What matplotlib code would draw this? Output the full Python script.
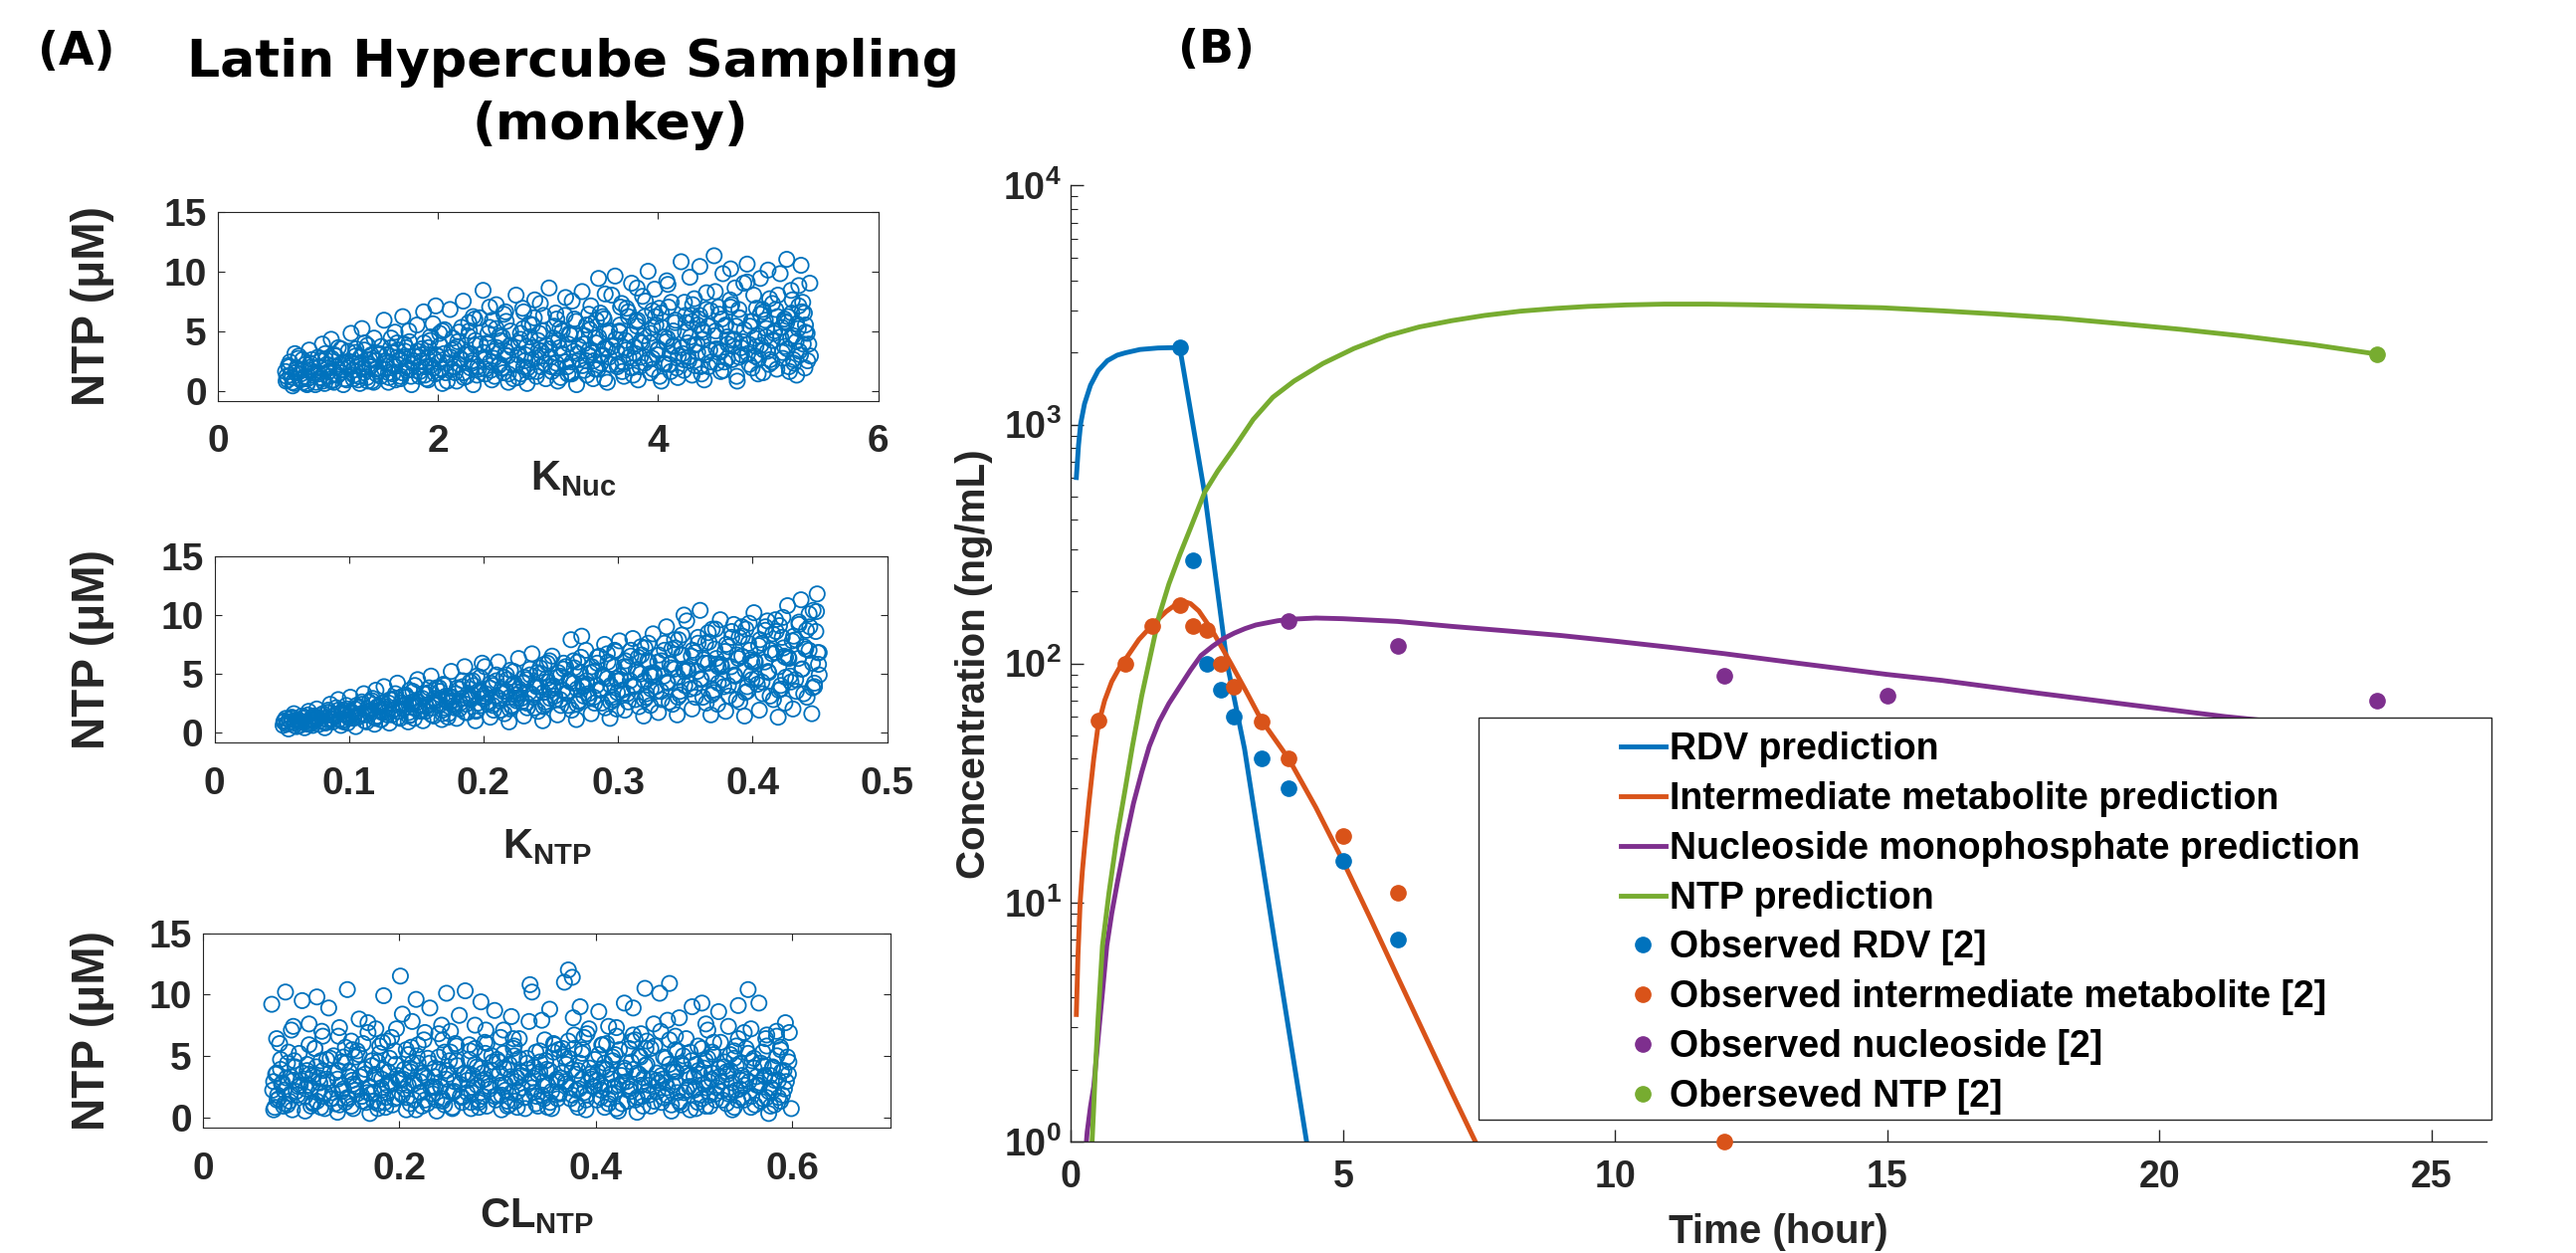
import numpy as np
import matplotlib
matplotlib.use("Agg")
import matplotlib.pyplot as plt
from matplotlib.patches import Rectangle
from matplotlib.ticker import LogLocator, NullFormatter

plt.rcParams['font.family'] = ['Liberation Sans', 'DejaVu Sans']
plt.rcParams['font.weight'] = 'bold'
plt.rcParams['mathtext.fontset'] = 'custom'
plt.rcParams['mathtext.rm'] = 'Liberation Sans:bold'
plt.rcParams['mathtext.it'] = 'Liberation Sans:bold'
plt.rcParams['mathtext.bf'] = 'Liberation Sans:bold'

# ---------------- (A) Latin hypercube samples ----------------
# outer cloud
knuc_x = [0.62,0.64,0.66,0.68,0.70,0.72,0.75,0.77,0.79,0.81,0.83,0.85,0.87,0.89,
          0.91,0.93,0.95,0.97,0.99,1.01,1.03,1.05,1.07,1.09,1.12,1.14,1.16,1.18,
          1.21,1.23,1.25,1.27,1.29,1.31,1.33,1.36,1.38,1.40,1.42,1.44,1.46,1.48,
          1.51,1.53,1.55,1.57,1.59,1.61,1.63,1.66,1.68,1.70,1.72,1.74,1.76,1.78,
          1.81,1.83,1.85,1.87,1.89,1.91,1.93,1.96,1.98,2.00,2.02,2.04,2.06,2.08,
          2.11,2.13,2.15,2.17,2.19,2.21,2.23,2.26,2.28,2.30,2.32,2.34,2.36,2.38,
          2.41,2.43,2.45,2.47,2.49,2.51,2.53,2.56,2.58,2.60,2.62,2.64,2.66,2.68,
          2.71,2.73,2.75,2.77,2.79,2.81,2.83,2.86,2.88,2.90,2.92,2.94,2.96,2.98,
          3.01,3.03,3.05,3.07,3.09,3.11,3.13,3.16,3.18,3.20,3.22,3.24,3.26,3.28,
          3.31,3.33,3.35,3.37,3.39,3.41,3.43,3.46,3.48,3.50,3.52,3.54,3.56,3.58,
          3.61,3.63,3.65,3.67,3.69,3.71,3.73,3.76,3.78,3.80,3.82,3.84,3.86,3.88,
          3.91,3.93,3.95,3.97,3.99,4.01,4.03,4.06,4.08,4.10,4.12,4.14,4.16,4.18,
          4.21,4.23,4.25,4.27,4.29,4.31,4.33,4.36,4.38,4.40,4.42,4.44,4.46,4.48,
          4.51,4.53,4.55,4.57,4.59,4.61,4.63,4.66,4.68,4.70,4.72,4.74,4.76,4.78,
          4.81,4.83,4.85,4.87,4.89,4.91,4.93,4.96,4.98,5.00,5.02,5.04,5.06,5.08,
          5.11,5.13,5.15,5.17,5.19,5.21,5.23,5.26,5.28,5.30,5.32,5.34,5.36,5.38]
knuc_ntp = [0.8,2.1,1.3,0.4,3.1,1.8,0.9,2.6,1.2,0.5,3.4,2.0,1.5,0.7,
            2.8,1.1,3.9,0.6,2.2,1.6,4.3,0.9,2.9,1.3,3.5,0.5,2.4,1.9,
            4.8,1.0,3.2,2.1,0.6,5.2,1.5,3.8,2.6,0.8,4.4,1.8,3.0,1.2,
            5.9,2.3,0.7,3.6,1.4,4.9,2.8,1.0,6.2,3.3,1.7,4.1,0.5,2.5,
            5.5,1.2,3.0,6.6,2.0,0.9,4.5,2.7,7.1,1.5,3.8,0.6,5.1,2.3,
            6.8,1.8,3.5,0.8,4.9,2.6,7.5,1.2,5.7,3.1,0.5,4.2,2.0,6.1,
            8.4,1.4,3.9,5.3,0.9,2.7,7.2,4.6,1.9,6.4,3.3,0.7,5.0,2.2,
            8.0,1.1,4.3,6.9,2.5,0.6,5.6,3.6,7.6,1.6,4.8,2.9,6.3,1.0,
            8.6,2.0,4.0,6.5,0.8,5.2,3.1,7.8,1.4,4.7,2.4,6.0,0.5,3.7,
            8.3,1.7,5.5,3.0,7.1,1.0,4.4,9.4,2.3,6.2,3.6,0.7,5.0,8.0,
            9.6,2.0,4.9,7.3,1.2,3.4,6.6,9.0,2.7,5.8,0.9,4.1,7.9,2.3,
            10.0,1.5,5.3,8.5,3.0,6.9,0.8,4.5,9.2,2.2,7.4,3.8,5.9,1.1,
            10.8,2.6,6.3,4.0,9.5,1.3,7.7,3.2,10.4,5.1,0.9,8.2,2.0,6.7,
            11.3,3.5,7.0,1.6,9.8,5.4,2.7,10.2,4.2,8.6,0.8,6.1,3.0,9.0,
            10.6,2.2,5.8,8.0,3.7,1.4,9.4,6.6,4.5,10.1,2.6,7.3,5.0,1.8,
            9.8,3.2,6.0,11.0,2.0,8.4,4.6,1.3,7.1,10.5,3.9,5.5,2.5,9.0]
# dense core
knuc_x_core = [0.615,0.635,0.655,0.675,0.695,0.715,0.735,0.755,0.775,0.795,0.815,0.835,0.855,0.885,
               0.915,0.935,0.955,0.975,0.995,1.015,1.035,1.055,1.075,1.095,1.115,1.135,1.155,1.185,
               1.215,1.235,1.255,1.275,1.295,1.315,1.335,1.355,1.375,1.395,1.415,1.435,1.455,1.485,
               1.515,1.535,1.555,1.575,1.595,1.615,1.635,1.655,1.675,1.695,1.715,1.735,1.755,1.785,
               1.815,1.835,1.855,1.875,1.895,1.915,1.935,1.955,1.975,1.995,2.015,2.035,2.055,2.085,
               2.115,2.135,2.155,2.175,2.195,2.215,2.235,2.255,2.275,2.295,2.315,2.335,2.355,2.385,
               2.415,2.435,2.455,2.475,2.495,2.515,2.535,2.555,2.575,2.595,2.615,2.635,2.655,2.685,
               2.715,2.735,2.755,2.775,2.795,2.815,2.835,2.855,2.875,2.895,2.915,2.935,2.955,2.985,
               3.015,3.035,3.055,3.075,3.095,3.115,3.135,3.155,3.175,3.195,3.215,3.235,3.255,3.285,
               3.315,3.335,3.355,3.375,3.395,3.415,3.435,3.455,3.475,3.495,3.515,3.535,3.555,3.585,
               3.615,3.635,3.655,3.675,3.695,3.715,3.735,3.755,3.775,3.795,3.815,3.835,3.855,3.885,
               3.915,3.935,3.955,3.975,3.995,4.015,4.035,4.055,4.075,4.095,4.115,4.135,4.155,4.185,
               4.215,4.235,4.255,4.275,4.295,4.315,4.335,4.355,4.375,4.395,4.415,4.435,4.455,4.485,
               4.515,4.535,4.555,4.575,4.595,4.615,4.635,4.655,4.675,4.695,4.715,4.735,4.755,4.785,
               4.815,4.835,4.855,4.875,4.895,4.915,4.935,4.955,4.975,4.995,5.015,5.035,5.055,5.085,
               5.115,5.135,5.155,5.175,5.195,5.215,5.235,5.255,5.275,5.295,5.315,5.335,5.355,5.385]
knuc_ntp_core = [1.6,0.9,2.4,1.1,0.6,1.9,2.9,1.4,0.7,2.2,1.0,1.7,2.6,0.5,
                 1.4,2.5,0.8,3.1,1.9,1.2,2.7,0.7,2.0,3.6,1.5,2.3,1.0,3.3,
                 2.4,1.3,3.5,0.9,2.8,1.9,4.0,1.1,2.2,3.0,0.7,2.5,1.6,3.7,
                 1.8,3.0,1.1,4.4,2.2,0.9,3.4,2.6,1.5,3.9,2.0,5.0,1.2,2.9,
                 3.3,1.6,2.5,4.0,1.0,3.6,2.1,5.6,1.4,2.9,4.8,1.8,3.1,0.8,
                 2.8,4.4,1.5,3.7,2.2,5.3,1.1,3.0,4.6,1.9,2.5,6.0,1.3,3.9,
                 3.2,1.8,4.8,2.4,5.9,1.2,3.6,2.1,4.2,1.5,6.6,2.9,3.8,1.0,
                 2.2,4.0,1.4,5.2,3.0,1.9,4.5,2.6,6.1,1.2,3.4,2.0,5.0,3.8,
                 3.5,1.6,5.4,2.3,4.2,1.1,3.0,6.3,2.0,4.8,1.4,3.3,5.8,2.6,
                 2.1,4.6,1.3,3.4,5.6,2.5,4.0,1.8,6.5,3.0,1.0,4.9,2.8,3.7,
                 4.3,2.2,5.5,1.6,3.6,6.9,2.8,4.7,1.3,3.1,5.9,2.0,4.0,7.5,
                 2.6,4.8,1.8,6.2,3.4,1.2,5.3,2.3,4.1,7.0,1.6,3.7,5.7,2.9,
                 3.6,1.7,5.7,2.8,4.5,7.2,2.1,3.9,6.0,1.4,4.9,3.0,5.4,2.4,
                 4.6,2.3,6.4,3.3,1.7,5.5,3.9,7.6,2.6,4.3,1.2,6.8,3.6,5.1,
                 3.1,5.4,1.9,4.4,6.9,2.7,3.8,1.5,5.9,3.3,7.7,2.4,4.8,6.2,
                 4.5,2.7,5.8,3.5,1.6,6.5,2.3,4.1,5.2,3.0,7.4,1.9,4.8,2.9]
knuc_x_mid = [0.625,0.650,0.680,0.705,0.730,0.760,0.785,0.810,0.840,0.870,
              0.925,0.950,0.980,1.005,1.030,1.060,1.085,1.110,1.140,1.170,
              1.225,1.250,1.280,1.305,1.330,1.360,1.385,1.410,1.440,1.470,
              1.525,1.550,1.580,1.605,1.630,1.660,1.685,1.710,1.740,1.770,
              1.825,1.850,1.880,1.905,1.930,1.960,1.985,2.010,2.040,2.070,
              2.125,2.150,2.180,2.205,2.230,2.260,2.285,2.310,2.340,2.370,
              2.425,2.450,2.480,2.505,2.530,2.560,2.585,2.610,2.640,2.670,
              2.725,2.750,2.780,2.805,2.830,2.860,2.885,2.910,2.940,2.970,
              3.025,3.050,3.080,3.105,3.130,3.160,3.185,3.210,3.240,3.270,
              3.325,3.350,3.380,3.405,3.430,3.460,3.485,3.510,3.540,3.570,
              3.625,3.650,3.680,3.705,3.730,3.760,3.785,3.810,3.840,3.870,
              3.925,3.950,3.980,4.005,4.030,4.060,4.085,4.110,4.140,4.170,
              4.225,4.250,4.280,4.305,4.330,4.360,4.385,4.410,4.440,4.470,
              4.525,4.550,4.580,4.605,4.630,4.660,4.685,4.710,4.740,4.770,
              4.825,4.850,4.880,4.905,4.930,4.960,4.985,5.010,5.040,5.070,
              5.125,5.150,5.180,5.205,5.230,5.260,5.285,5.310,5.340,5.370]
knuc_ntp_mid = [1.2,2.0,0.7,1.5,2.7,1.0,1.8,0.6,2.3,1.3,
                2.0,1.0,2.6,1.6,0.8,3.0,1.3,2.2,1.8,0.9,
                1.7,2.9,1.2,2.3,3.4,0.8,2.0,2.7,1.4,3.1,
                2.5,1.5,3.2,2.0,4.0,1.2,2.8,3.6,1.8,2.3,
                2.0,3.5,1.3,2.7,4.2,1.9,3.0,2.4,5.0,1.5,
                3.4,2.0,4.1,2.7,1.5,3.2,5.0,2.3,3.8,1.8,
                2.6,4.0,1.7,3.3,5.2,2.2,4.5,3.0,1.4,3.6,
                3.0,4.8,2.0,3.7,1.6,5.5,2.7,4.2,3.3,2.3,
                2.8,4.4,1.9,3.6,5.0,2.4,3.9,1.5,4.7,3.1,
                3.9,2.5,5.1,3.2,1.8,4.5,2.9,6.0,3.5,2.2,
                3.3,5.0,2.4,4.2,6.2,1.9,3.7,5.4,2.8,4.6,
                4.0,2.7,5.5,3.5,6.5,2.2,4.4,3.1,5.0,1.9,
                3.1,4.9,2.5,6.3,3.8,5.5,2.0,4.3,6.8,3.4,
                5.0,3.2,6.0,2.4,4.5,7.0,3.7,5.4,2.8,4.1,
                3.9,5.8,2.9,4.6,6.4,3.4,5.2,2.2,4.2,6.8,
                5.3,3.7,6.2,4.4,2.6,5.6,3.3,6.6,4.9,3.9]
knuc_x_top = [2.32,2.47,2.62,2.78,2.93,3.08,3.22,3.37,3.52,3.66,
              3.81,3.95,4.09,4.24,4.38,4.52,4.67,4.81,4.95,5.09,
              5.22,5.33,3.44,3.88,4.31,4.74,5.17,5.28]
knuc_ntp_top = [6.2,7.0,5.8,6.6,7.3,6.0,7.5,6.4,8.1,7.0,
                8.6,6.7,8.9,7.4,6.3,8.3,7.2,9.1,6.8,8.0,
                7.6,6.5,5.9,6.2,5.8,6.1,5.7,8.8]

kntp_x = [0.051,0.053,0.055,0.057,0.059,0.061,0.063,0.065,0.067,0.069,0.070,0.071,0.073,0.074,
          0.076,0.078,0.080,0.082,0.084,0.086,0.088,0.090,0.092,0.094,0.096,0.097,0.098,0.099,
          0.101,0.103,0.105,0.107,0.109,0.111,0.113,0.115,0.117,0.119,0.120,0.121,0.123,0.124,
          0.126,0.128,0.130,0.132,0.134,0.136,0.138,0.140,0.142,0.144,0.145,0.146,0.148,0.149,
          0.151,0.153,0.155,0.157,0.159,0.161,0.163,0.165,0.167,0.169,0.170,0.171,0.173,0.174,
          0.176,0.178,0.180,0.182,0.184,0.186,0.188,0.190,0.192,0.194,0.195,0.196,0.198,0.199,
          0.201,0.203,0.205,0.207,0.209,0.211,0.213,0.215,0.217,0.219,0.220,0.221,0.223,0.224,
          0.226,0.228,0.230,0.232,0.234,0.236,0.238,0.240,0.242,0.244,0.245,0.246,0.248,0.249,
          0.251,0.253,0.255,0.257,0.259,0.261,0.263,0.265,0.267,0.269,0.270,0.271,0.273,0.274,
          0.276,0.278,0.280,0.282,0.284,0.286,0.288,0.290,0.292,0.294,0.295,0.296,0.298,0.299,
          0.301,0.303,0.305,0.307,0.309,0.311,0.313,0.315,0.317,0.319,0.320,0.321,0.323,0.324,
          0.326,0.328,0.330,0.332,0.334,0.336,0.338,0.340,0.342,0.344,0.345,0.346,0.348,0.349,
          0.351,0.353,0.355,0.357,0.359,0.361,0.363,0.365,0.367,0.369,0.370,0.371,0.373,0.374,
          0.376,0.378,0.380,0.382,0.384,0.386,0.388,0.390,0.392,0.394,0.395,0.396,0.398,0.399,
          0.401,0.403,0.405,0.407,0.409,0.411,0.413,0.415,0.417,0.419,0.420,0.421,0.423,0.424,
          0.426,0.428,0.430,0.432,0.434,0.436,0.438,0.440,0.442,0.444,0.445,0.446,0.448,0.449]
kntp_ntp = [0.6,1.2,0.3,0.9,1.6,0.5,1.0,1.4,0.4,0.8,1.8,1.1,0.6,1.3,
            2.0,0.7,1.2,0.4,1.7,2.4,0.9,1.4,2.8,0.6,1.9,1.1,2.3,0.8,
            3.0,1.3,0.5,2.1,1.6,3.3,0.9,2.6,1.9,0.7,3.6,1.4,2.3,1.1,
            3.9,1.7,0.8,2.8,2.0,4.2,1.2,3.1,2.4,0.9,3.6,1.5,2.6,4.0,
            4.5,1.9,1.0,3.3,2.4,4.8,1.4,3.8,2.8,1.1,4.1,2.1,3.0,1.6,
            5.2,2.3,1.2,3.7,2.9,5.6,1.7,4.3,3.2,1.0,4.8,2.5,3.5,5.9,
            5.6,2.6,1.3,4.0,3.1,6.0,1.9,4.7,3.5,0.9,5.3,2.3,4.2,2.9,
            6.3,2.9,1.4,4.5,3.4,6.7,2.1,5.1,3.9,1.0,5.8,2.6,4.3,6.1,
            6.5,3.1,1.5,4.8,3.6,5.6,2.3,7.9,4.2,1.1,6.0,2.7,8.2,3.9,
            7.0,3.3,1.6,5.2,4.0,6.5,2.5,7.5,4.6,1.2,5.8,3.0,6.9,2.0,
            7.8,3.6,1.9,5.6,4.4,8.0,2.8,6.4,5.0,1.4,7.2,3.3,6.0,2.3,
            8.4,3.9,1.7,6.1,4.8,9.0,2.6,7.1,5.4,1.5,7.9,3.5,6.6,10.0,
            9.5,4.2,2.0,6.8,5.2,10.4,3.0,7.6,5.9,1.5,8.8,3.6,6.3,2.4,
            9.6,4.5,1.8,7.3,5.6,9.2,2.8,8.1,6.5,1.4,8.8,3.9,7.0,4.9,
            10.2,4.6,1.9,7.6,6.0,9.5,3.1,8.4,6.8,1.3,9.1,4.0,7.2,2.5,
            10.8,4.8,2.0,7.9,6.3,11.3,3.3,8.7,7.0,1.6,10.4,4.2,11.8,5.8]
kntp_x_core = [0.0515,0.0535,0.0555,0.0575,0.0595,0.0615,0.0635,0.0655,0.0675,0.0695,0.0710,0.0725,0.0735,0.0745,
               0.0765,0.0785,0.0805,0.0825,0.0845,0.0865,0.0885,0.0905,0.0925,0.0945,0.0960,0.0975,0.0985,0.0995,
               0.1015,0.1035,0.1055,0.1075,0.1095,0.1115,0.1135,0.1155,0.1175,0.1195,0.1210,0.1225,0.1235,0.1245,
               0.1265,0.1285,0.1305,0.1325,0.1345,0.1365,0.1385,0.1405,0.1425,0.1445,0.1460,0.1475,0.1485,0.1495,
               0.1515,0.1535,0.1555,0.1575,0.1595,0.1615,0.1635,0.1655,0.1675,0.1695,0.1710,0.1725,0.1735,0.1745,
               0.1765,0.1785,0.1805,0.1825,0.1845,0.1865,0.1885,0.1905,0.1925,0.1945,0.1960,0.1975,0.1985,0.1995,
               0.2015,0.2035,0.2055,0.2075,0.2095,0.2115,0.2135,0.2155,0.2175,0.2195,0.2210,0.2225,0.2235,0.2245,
               0.2265,0.2285,0.2305,0.2325,0.2345,0.2365,0.2385,0.2405,0.2425,0.2445,0.2460,0.2475,0.2485,0.2495,
               0.2515,0.2535,0.2555,0.2575,0.2595,0.2615,0.2635,0.2655,0.2675,0.2695,0.2710,0.2725,0.2735,0.2745,
               0.2765,0.2785,0.2805,0.2825,0.2845,0.2865,0.2885,0.2905,0.2925,0.2945,0.2960,0.2975,0.2985,0.2995,
               0.3015,0.3035,0.3055,0.3075,0.3095,0.3115,0.3135,0.3155,0.3175,0.3195,0.3210,0.3225,0.3235,0.3245,
               0.3265,0.3285,0.3305,0.3325,0.3345,0.3365,0.3385,0.3405,0.3425,0.3445,0.3460,0.3475,0.3485,0.3495,
               0.3515,0.3535,0.3555,0.3575,0.3595,0.3615,0.3635,0.3655,0.3675,0.3695,0.3710,0.3725,0.3735,0.3745,
               0.3765,0.3785,0.3805,0.3825,0.3845,0.3865,0.3885,0.3905,0.3925,0.3945,0.3960,0.3975,0.3985,0.3995,
               0.4015,0.4035,0.4055,0.4075,0.4095,0.4115,0.4135,0.4155,0.4175,0.4195,0.4210,0.4225,0.4235,0.4245,
               0.4265,0.4285,0.4305,0.4325,0.4345,0.4365,0.4385,0.4405,0.4425,0.4445,0.4460,0.4475,0.4485,0.4495]
kntp_ntp_core = [0.9,0.7,1.1,1.3,0.8,1.0,0.6,1.2,0.9,1.5,0.7,1.1,1.4,1.0,
                 1.3,1.0,1.6,0.8,1.9,1.2,1.4,2.1,1.1,1.7,0.9,1.5,2.0,1.3,
                 1.8,1.2,2.3,1.5,2.6,1.0,2.0,1.6,2.9,1.3,2.2,1.9,1.1,2.5,
                 2.2,1.5,2.8,1.9,3.3,1.3,2.5,2.0,3.0,1.7,2.4,3.5,1.2,2.7,
                 2.6,1.8,3.3,2.2,3.8,1.5,2.9,2.4,3.5,1.9,4.0,2.7,1.3,3.1,
                 3.0,2.1,3.8,2.5,4.4,1.7,3.3,2.8,4.0,1.9,3.5,4.7,2.3,3.1,
                 3.3,2.4,4.2,1.9,4.9,2.9,3.7,1.6,4.5,3.0,2.2,5.2,3.5,2.7,
                 3.7,2.6,4.7,2.1,5.4,3.2,4.1,1.8,5.0,3.4,2.4,5.9,3.9,2.9,
                 4.0,2.8,5.1,2.3,5.9,3.4,4.5,1.9,5.5,3.7,2.6,6.4,4.2,3.1,
                 4.4,3.0,5.6,2.5,6.4,3.7,4.9,2.1,6.0,4.0,2.8,7.0,4.6,3.4,
                 4.8,3.3,6.1,2.6,7.0,4.0,5.3,2.2,6.6,4.4,3.0,7.6,5.0,3.7,
                 5.1,3.5,6.6,2.8,7.6,4.3,5.8,2.4,7.2,4.7,3.2,8.3,5.4,4.0,
                 5.5,3.7,7.0,3.0,8.1,4.6,6.2,2.5,7.7,5.0,3.4,8.8,5.8,4.2,
                 5.8,3.9,7.5,3.1,8.6,4.9,6.6,2.6,8.2,5.3,3.5,9.3,6.2,4.5,
                 6.1,4.1,7.9,3.3,9.0,5.2,7.0,2.8,8.6,5.6,3.7,9.8,6.5,4.7,
                 6.4,4.3,8.2,3.5,9.4,5.4,7.3,3.0,9.0,5.9,3.9,10.3,6.8,4.9]
kntp_x_mid = [0.0520,0.0545,0.0570,0.0595,0.0620,0.0645,0.0670,0.0695,0.0720,0.0745,
              0.0770,0.0795,0.0820,0.0845,0.0870,0.0895,0.0920,0.0945,0.0970,0.0995,
              0.1020,0.1045,0.1070,0.1095,0.1120,0.1145,0.1170,0.1195,0.1220,0.1245,
              0.1270,0.1295,0.1320,0.1345,0.1370,0.1395,0.1420,0.1445,0.1470,0.1495,
              0.1520,0.1545,0.1570,0.1595,0.1620,0.1645,0.1670,0.1695,0.1720,0.1745,
              0.1770,0.1795,0.1820,0.1845,0.1870,0.1895,0.1920,0.1945,0.1970,0.1995,
              0.2020,0.2045,0.2070,0.2095,0.2120,0.2145,0.2170,0.2195,0.2220,0.2245,
              0.2270,0.2295,0.2320,0.2345,0.2370,0.2395,0.2420,0.2445,0.2470,0.2495,
              0.2520,0.2545,0.2570,0.2595,0.2620,0.2645,0.2670,0.2695,0.2720,0.2745,
              0.2770,0.2795,0.2820,0.2845,0.2870,0.2895,0.2920,0.2945,0.2970,0.2995,
              0.3020,0.3045,0.3070,0.3095,0.3120,0.3145,0.3170,0.3195,0.3220,0.3245,
              0.3270,0.3295,0.3320,0.3345,0.3370,0.3395,0.3420,0.3445,0.3470,0.3495,
              0.3520,0.3545,0.3570,0.3595,0.3620,0.3645,0.3670,0.3695,0.3720,0.3745,
              0.3770,0.3795,0.3820,0.3845,0.3870,0.3895,0.3920,0.3945,0.3970,0.3995,
              0.4020,0.4045,0.4070,0.4095,0.4120,0.4145,0.4170,0.4195,0.4220,0.4245,
              0.4270,0.4295,0.4320,0.4345,0.4370,0.4395,0.4420,0.4445,0.4470,0.4495]
kntp_ntp_mid = [1.0,0.8,1.2,0.6,1.1,0.9,1.3,0.7,1.0,1.2,
                1.2,1.5,0.9,1.7,1.1,1.4,1.9,1.0,1.6,1.3,
                1.6,2.0,1.3,2.4,1.5,1.8,2.7,1.2,2.1,1.7,
                2.0,2.5,1.5,2.9,1.8,2.3,3.2,1.4,2.6,2.1,
                2.3,2.9,1.8,3.4,2.1,2.7,3.8,1.6,3.1,2.5,
                2.7,3.3,2.0,3.9,2.4,3.1,4.4,1.8,3.6,2.9,
                3.0,3.8,2.3,4.4,2.7,3.5,4.9,2.0,4.1,3.2,
                3.4,4.2,2.5,4.9,3.0,3.9,5.5,2.2,4.6,3.6,
                3.8,4.7,2.8,5.4,3.3,4.3,6.1,2.4,5.1,4.0,
                4.1,5.1,3.0,5.9,3.6,4.7,6.7,2.6,5.6,4.4,
                4.5,5.6,3.3,6.5,3.9,5.1,7.3,2.8,6.1,4.8,
                4.9,6.0,3.5,7.0,4.2,5.5,7.9,3.0,6.6,5.2,
                5.3,6.5,3.8,7.6,4.5,5.9,8.5,3.2,7.1,5.6,
                5.6,6.9,4.0,8.1,4.8,6.3,9.0,3.4,7.6,6.0,
                6.0,7.4,4.3,8.7,5.1,6.7,9.6,3.6,8.1,6.4,
                6.3,7.8,4.5,9.2,5.4,7.1,10.1,3.8,8.6,6.8]

clntp_x = [0.070,0.072,0.074,0.076,0.078,0.080,0.082,0.084,0.086,0.088,0.090,0.092,0.095,0.098,0.101,
           0.104,0.106,0.108,0.110,0.112,0.114,0.116,0.118,0.120,0.122,0.124,0.126,0.128,0.131,0.134,
           0.137,0.139,0.141,0.143,0.145,0.147,0.149,0.151,0.153,0.155,0.157,0.159,0.162,0.165,0.168,
           0.170,0.172,0.174,0.176,0.178,0.180,0.182,0.184,0.186,0.188,0.190,0.192,0.195,0.198,0.201,
           0.203,0.205,0.207,0.209,0.211,0.213,0.215,0.217,0.219,0.221,0.223,0.225,0.228,0.231,0.234,
           0.236,0.238,0.240,0.242,0.244,0.246,0.248,0.250,0.252,0.254,0.256,0.258,0.261,0.264,0.267,
           0.269,0.271,0.273,0.275,0.277,0.279,0.281,0.283,0.285,0.287,0.289,0.291,0.294,0.297,0.300,
           0.302,0.304,0.306,0.308,0.310,0.312,0.314,0.316,0.318,0.320,0.322,0.324,0.327,0.330,0.333,
           0.335,0.337,0.339,0.341,0.343,0.345,0.347,0.349,0.351,0.353,0.355,0.357,0.360,0.363,0.366,
           0.368,0.370,0.372,0.374,0.376,0.378,0.380,0.382,0.384,0.386,0.388,0.390,0.393,0.396,0.399,
           0.401,0.403,0.405,0.407,0.409,0.411,0.413,0.415,0.417,0.419,0.421,0.423,0.426,0.429,0.432,
           0.434,0.436,0.438,0.440,0.442,0.444,0.446,0.448,0.450,0.452,0.454,0.456,0.459,0.462,0.465,
           0.467,0.469,0.471,0.473,0.475,0.477,0.479,0.481,0.483,0.485,0.487,0.489,0.492,0.495,0.498,
           0.500,0.502,0.504,0.506,0.508,0.510,0.512,0.514,0.516,0.518,0.520,0.522,0.525,0.528,0.531,
           0.533,0.535,0.537,0.539,0.541,0.543,0.545,0.547,0.549,0.551,0.553,0.555,0.558,0.561,0.564,
           0.566,0.568,0.570,0.572,0.574,0.576,0.578,0.580,0.582,0.584,0.586,0.588,0.590,0.593,0.596,0.599]
clntp_ntp = [9.2,0.6,3.5,1.8,6.0,2.7,0.9,10.2,4.4,1.3,7.1,3.0,2.1,5.2,9.5,
             0.5,3.8,7.6,2.4,1.1,5.6,9.8,3.2,0.8,6.6,2.0,4.7,8.9,1.5,3.6,
             0.4,7.3,2.6,4.9,1.2,10.4,3.3,6.2,0.7,2.2,5.4,8.0,1.7,3.9,6.9,
             0.3,4.2,2.0,7.2,1.1,5.8,3.1,9.9,0.8,2.6,4.8,6.5,1.5,3.4,11.5,
             8.4,2.3,0.6,5.1,3.7,7.8,1.4,9.6,4.4,2.9,0.9,6.3,3.2,8.9,1.9,
             4.0,0.5,6.8,2.5,1.3,5.3,10.1,3.5,7.0,0.8,2.1,4.6,8.3,1.6,10.3,
             3.0,5.9,0.7,2.4,7.5,4.1,1.2,9.4,3.6,6.1,0.9,2.8,5.0,8.7,1.8,
             4.5,0.6,7.1,2.2,3.9,1.0,8.2,5.6,2.9,0.8,6.4,3.4,1.6,4.8,10.8,
             10.2,2.0,5.3,0.9,3.7,7.9,1.5,4.6,2.6,8.8,0.7,6.0,3.1,1.9,5.6,
             11.0,4.3,12.0,2.4,11.4,6.7,1.1,3.8,9.0,5.2,2.0,0.6,7.2,3.3,4.7,
             1.4,8.6,2.7,5.9,0.8,3.9,7.4,1.9,4.9,2.5,6.6,0.5,3.4,9.3,1.3,
             5.6,2.1,8.9,6.3,0.4,3.5,6.8,1.7,10.5,4.3,2.6,0.9,7.6,3.0,10.1,
             1.2,4.9,2.8,7.9,10.9,0.5,3.7,5.5,2.0,8.1,1.0,4.2,6.4,2.5,9.0,
             3.3,0.7,5.8,1.8,9.3,4.0,2.4,7.1,0.9,3.6,5.1,1.4,8.6,2.9,4.5,
             1.1,7.4,3.8,0.6,5.4,2.2,9.1,4.4,1.6,6.9,3.1,10.4,0.8,4.8,2.6,
             9.3,1.3,5.3,3.4,6.7,0.3,2.4,4.1,1.0,7.0,3.0,5.7,1.8,7.7,3.5,0.7]
clntp_x_core = [0.071,0.073,0.075,0.077,0.079,0.081,0.083,0.085,0.087,0.089,0.091,0.094,0.097,0.100,
                0.104,0.106,0.108,0.110,0.112,0.114,0.116,0.118,0.120,0.122,0.124,0.127,0.130,0.133,
                0.137,0.139,0.141,0.143,0.145,0.147,0.149,0.151,0.153,0.155,0.157,0.160,0.163,0.166,
                0.170,0.172,0.174,0.176,0.178,0.180,0.182,0.184,0.186,0.188,0.190,0.193,0.196,0.199,
                0.203,0.205,0.207,0.209,0.211,0.213,0.215,0.217,0.219,0.221,0.223,0.226,0.229,0.232,
                0.236,0.238,0.240,0.242,0.244,0.246,0.248,0.250,0.252,0.254,0.256,0.259,0.262,0.265,
                0.269,0.271,0.273,0.275,0.277,0.279,0.281,0.283,0.285,0.287,0.289,0.292,0.295,0.298,
                0.302,0.304,0.306,0.308,0.310,0.312,0.314,0.316,0.318,0.320,0.322,0.325,0.328,0.331,
                0.335,0.337,0.339,0.341,0.343,0.345,0.347,0.349,0.351,0.353,0.355,0.358,0.361,0.364,
                0.368,0.370,0.372,0.374,0.376,0.378,0.380,0.382,0.384,0.386,0.388,0.391,0.394,0.397,
                0.401,0.403,0.405,0.407,0.409,0.411,0.413,0.415,0.417,0.419,0.421,0.424,0.427,0.430,
                0.434,0.436,0.438,0.440,0.442,0.444,0.446,0.448,0.450,0.452,0.454,0.457,0.460,0.463,
                0.467,0.469,0.471,0.473,0.475,0.477,0.479,0.481,0.483,0.485,0.487,0.490,0.493,0.496,
                0.500,0.502,0.504,0.506,0.508,0.510,0.512,0.514,0.516,0.518,0.520,0.523,0.526,0.529,
                0.533,0.535,0.537,0.539,0.541,0.543,0.545,0.547,0.549,0.551,0.553,0.556,0.559,0.562,
                0.566,0.568,0.570,0.572,0.574,0.576,0.578,0.580,0.582,0.584,0.586,0.589,0.592,0.595]
clntp_ntp_core = [2.2,0.8,3.6,1.5,4.7,2.8,1.1,3.2,5.3,1.9,0.6,4.1,2.5,3.0,
                  1.7,4.3,2.6,0.9,3.4,5.6,1.3,2.1,4.6,3.8,0.7,2.9,1.5,5.0,
                  3.1,1.0,4.5,2.3,5.7,1.6,3.7,0.9,2.7,4.9,1.9,3.3,6.0,1.2,
                  2.5,4.6,1.3,3.5,0.7,5.2,2.2,3.9,1.6,6.2,2.9,1.0,4.3,3.1,
                  1.8,3.9,5.5,2.6,1.1,4.4,3.0,0.6,5.9,2.0,3.6,1.4,4.8,2.4,
                  3.3,1.4,4.9,2.5,6.3,1.0,3.8,2.1,5.3,0.7,2.9,4.2,1.7,3.5,
                  2.0,4.7,1.2,3.4,5.6,2.6,0.8,4.0,1.7,3.1,6.0,2.3,4.5,1.4,
                  3.6,1.8,5.2,2.7,0.9,4.3,2.0,6.4,1.3,3.2,4.8,2.4,0.7,3.9,
                  2.4,4.1,1.1,3.5,5.4,1.8,2.9,4.6,0.8,3.8,2.1,5.9,1.5,3.2,
                  4.9,2.7,6.2,1.5,3.9,5.6,2.2,0.8,4.4,3.1,6.5,1.8,3.5,2.5,
                  3.0,5.1,1.6,4.0,2.4,6.0,1.1,3.5,4.6,2.0,0.7,5.5,2.8,3.8,
                  2.3,4.5,6.7,1.4,3.6,5.0,2.6,0.9,4.2,6.2,1.8,3.1,5.8,2.1,
                  3.4,1.6,4.8,2.4,6.3,1.0,3.9,2.9,5.4,1.3,4.4,2.0,3.6,0.6,
                  2.2,4.3,1.2,3.5,5.6,2.7,0.9,4.8,1.8,3.1,6.1,2.4,4.0,1.4,
                  3.7,1.9,5.1,2.8,0.8,4.2,6.4,2.3,3.4,1.4,5.6,2.9,4.6,1.0,
                  2.6,4.4,1.5,3.3,5.8,2.1,0.9,4.0,3.0,6.6,1.6,3.7,2.3,4.9]
clntp_x_mid = [0.0720,0.0755,0.0790,0.0825,0.0860,0.0895,0.0930,0.0965,0.0990,0.1015,
               0.1050,0.1085,0.1120,0.1155,0.1190,0.1225,0.1260,0.1295,0.1320,0.1345,
               0.1380,0.1415,0.1450,0.1485,0.1520,0.1555,0.1590,0.1625,0.1650,0.1675,
               0.1710,0.1745,0.1780,0.1815,0.1850,0.1885,0.1920,0.1955,0.1980,0.2005,
               0.2040,0.2075,0.2110,0.2145,0.2180,0.2215,0.2250,0.2285,0.2310,0.2335,
               0.2370,0.2405,0.2440,0.2475,0.2510,0.2545,0.2580,0.2615,0.2640,0.2665,
               0.2700,0.2735,0.2770,0.2805,0.2840,0.2875,0.2910,0.2945,0.2970,0.2995,
               0.3030,0.3065,0.3100,0.3135,0.3170,0.3205,0.3240,0.3275,0.3300,0.3325,
               0.3360,0.3395,0.3430,0.3465,0.3500,0.3535,0.3570,0.3605,0.3630,0.3655,
               0.3690,0.3725,0.3760,0.3795,0.3830,0.3865,0.3900,0.3935,0.3960,0.3985,
               0.4020,0.4055,0.4090,0.4125,0.4160,0.4195,0.4230,0.4265,0.4290,0.4315,
               0.4350,0.4385,0.4420,0.4455,0.4490,0.4525,0.4560,0.4595,0.4620,0.4645,
               0.4680,0.4715,0.4750,0.4785,0.4820,0.4855,0.4890,0.4925,0.4950,0.4975,
               0.5010,0.5045,0.5080,0.5115,0.5150,0.5185,0.5220,0.5255,0.5280,0.5305,
               0.5340,0.5375,0.5410,0.5445,0.5480,0.5515,0.5550,0.5585,0.5610,0.5635,
               0.5670,0.5705,0.5740,0.5775,0.5810,0.5845,0.5880,0.5915,0.5940,0.5965]
clntp_ntp_mid = [2.9,1.4,3.9,2.2,1.0,3.3,4.6,1.8,2.6,3.6,
                 2.3,3.5,1.2,4.1,2.8,1.7,3.1,4.8,2.0,1.1,
                 3.8,2.1,4.4,1.5,3.0,2.5,5.1,1.3,3.5,2.0,
                 1.9,3.2,4.5,2.4,1.2,3.7,2.8,5.4,1.6,3.0,
                 3.1,1.6,4.0,2.7,5.0,2.0,3.4,1.1,4.4,2.5,
                 2.4,3.9,1.5,3.1,4.6,2.0,5.8,2.7,1.2,3.6,
                 3.5,2.0,4.3,1.4,3.0,5.2,2.5,3.8,1.7,4.7,
                 2.6,4.0,1.3,3.3,5.0,2.1,3.7,1.6,4.4,2.9,
                 3.2,1.7,4.5,2.5,3.9,1.2,5.3,2.9,2.0,3.6,
                 2.9,4.8,1.8,3.5,2.3,5.5,1.4,4.0,3.1,2.5,
                 3.7,2.2,4.4,1.5,3.1,5.1,2.6,1.1,4.0,2.9,
                 2.5,3.9,1.6,4.9,3.2,2.1,5.6,1.3,3.6,2.8,
                 3.1,1.8,4.3,2.6,3.7,1.2,5.0,2.2,3.4,4.6,
                 2.4,3.8,1.5,4.6,2.9,5.3,1.9,3.3,2.1,4.1,
                 3.5,2.0,4.8,1.4,3.0,2.6,5.2,1.7,4.0,3.3,
                 2.8,4.2,1.6,3.4,2.2,5.0,1.3,3.8,2.9,4.5]
clntp_x_top = [0.075,0.092,0.108,0.121,0.138,0.152,0.168,0.183,0.197,0.212,
               0.226,0.243,0.257,0.272,0.288,0.303,0.317,0.332,0.348,0.362,
               0.377,0.391,0.406,0.421,0.437,0.451,0.466,0.481,0.496,0.512,
               0.527,0.543,0.558,0.573,0.588,0.597]
clntp_ntp_top = [6.4,7.4,5.9,7.0,6.6,5.5,7.7,6.1,7.2,5.7,
                 6.9,7.5,6.0,5.4,7.1,6.5,5.8,7.8,6.3,5.5,
                 8.1,6.8,5.9,7.3,6.2,5.6,7.0,6.6,5.3,7.6,
                 6.1,5.8,7.2,6.4,5.5,6.9]

# ---------------- (B) model predictions and observations (ng/mL) ----------------
rdv_t = [0.1, 0.14, 0.18, 0.25, 0.36, 0.5, 0.67, 0.85, 1.0, 1.27, 1.6, 2.0,
         2.46, 2.87, 3.19, 3.76, 4.33, 4.5]
rdv_c = [600, 820, 1010, 1220, 1460, 1680, 1850, 1950, 1995, 2060, 2090, 2100,
         510, 100, 44, 6.5, 1.0, 0.6]

inter_t = [0.1, 0.13, 0.17, 0.21, 0.25, 0.33, 0.42, 0.5, 0.62, 0.75, 0.88, 1.0, 1.25,
           1.52, 1.75, 1.92, 2.07, 2.2, 2.35, 2.6, 2.94, 3.2, 3.5, 4.0, 4.5, 5.0,
           5.5, 6.0, 6.5, 7.0, 7.43, 7.6]
inter_c = [3.4, 6, 10, 13.5, 17, 26, 40, 55, 70, 84, 95, 104, 126,
           147, 165, 176, 182, 178, 166, 137, 100, 78, 58, 40, 25, 14.9,
           8.6, 4.9, 2.8, 1.6, 1.0, 0.8]

nuc_t = [0.25, 0.3, 0.36, 0.42, 0.5, 0.58, 0.66, 0.75, 0.85, 1.0, 1.15, 1.3, 1.44,
         1.62, 1.8, 2.0, 2.2, 2.39, 2.6, 2.8, 3.0, 3.2, 3.4, 3.6, 3.8, 4.0, 4.5, 5.0,
         6.0, 7.0, 8.0, 9.0, 10.0, 11.0, 12.0, 13.4, 15.0, 16.0, 17.8, 19.5, 21.2,
         22.5, 24.0]
nuc_c = [0.8, 1.1, 1.4, 1.7, 2.7, 4.2, 6.6, 9.0, 12, 18, 26, 35, 45,
         57, 68, 80, 94, 108, 118, 127, 134, 140, 145, 148, 151, 153, 155, 154,
         150, 143, 137, 131, 124, 117, 110, 100, 90, 85, 75, 67, 60,
         56, 51]

ntp_t = [0.38, 0.42, 0.45, 0.5, 0.58, 0.7, 0.85, 1.0, 1.13, 1.3, 1.45, 1.62, 1.8,
         2.0, 2.2, 2.46, 2.7, 3.0, 3.35, 3.71, 4.1, 4.63, 5.2, 5.81, 6.4, 7.0, 7.6,
         8.26, 8.9, 9.5, 10.2, 10.9, 11.7, 12.5, 13.7, 14.9, 16.0, 17.0, 18.2, 19.3,
         20.4, 21.5, 22.8, 24.0]
ntp_c = [0.9, 1.4, 2.0, 3.3, 6.6, 11, 19, 30, 45, 73, 105, 158, 215,
         285, 370, 522, 640, 800, 1050, 1300, 1520, 1800, 2080, 2350, 2560, 2720, 2860,
         2980, 3060, 3120, 3165, 3190, 3190, 3170, 3130, 3080, 2990, 2900, 2780, 2640,
         2500, 2350, 2160, 1970]

obs_rdv_t = [2, 2.25, 2.5, 2.75, 3, 3.5, 4, 5, 6]
obs_rdv_c = [2100, 270, 100, 78, 60, 40, 30, 15, 7]
obs_inter_t = [0.5, 1, 1.5, 2, 2.25, 2.5, 2.75, 3, 3.5, 4, 5, 6, 12]
obs_inter_c = [58, 100, 144, 175, 144, 138, 100, 80, 57, 40, 19, 11, 1.0]
obs_nuc_t = [4, 6, 12, 15, 24]
obs_nuc_c = [151, 119, 89, 73.5, 70]
obs_ntp_t = [24]
obs_ntp_c = [1970]

labels = ['RDV prediction', 'Intermediate metabolite prediction',
          'Nucleoside monophosphate prediction', 'NTP prediction',
          'Observed RDV [2]', 'Observed intermediate metabolite [2]',
          'Observed nucleoside [2]', 'Oberseved NTP [2]']

blue, orange, purple, green = '#0072BD', '#D95319', '#7E2F8E', '#77AC30'
axcol = '#262626'

W, H = 2589, 1259
fig = plt.figure(figsize=(W / 100, H / 100), dpi=100)


def fx(px):
    return px / W


def fy(py):
    return 1 - py / H


# ---------- left scatter panels ----------
panels = [
    (knuc_x + knuc_x_core + knuc_x_mid + knuc_x_top,
     knuc_ntp + knuc_ntp_core + knuc_ntp_mid + knuc_ntp_top,
     [219, 212.6, 882.5, 402.7], (0, 6), [0, 2, 4, 6], ['0', '2', '4', '6'],
     r'$\mathrm{K}_{\mathrm{Nuc}}$', 0.538, -0.47),
    (kntp_x + kntp_x_core + kntp_x_mid, kntp_ntp + kntp_ntp_core + kntp_ntp_mid,
     [215.6, 559, 891.6, 746], (0, 0.5), [0, 0.1, 0.2, 0.3, 0.4, 0.5],
     ['0', '0.1', '0.2', '0.3', '0.4', '0.5'], r'$\mathrm{K}_{\mathrm{NTP}}$', 0.495, -0.62),
    (clntp_x + clntp_x_core + clntp_x_mid + clntp_x_top,
     clntp_ntp + clntp_ntp_core + clntp_ntp_mid + clntp_ntp_top,
     [204, 937.6, 895, 1133], (0, 0.7), [0, 0.2, 0.4, 0.6], ['0', '0.2', '0.4', '0.6'],
     r'$\mathrm{CL}_{\mathrm{NTP}}$', 0.485, -0.512),
]

for xs, ys, box, xl, xt, xtl, xlab, lx, ly in panels:
    x0, y0, x1, y1 = box
    ax = fig.add_axes([fx(x0), fy(y1), fx(x1 - x0), (y1 - y0) / H])
    ax.scatter(xs, ys, s=120, facecolors='none', edgecolors=blue, linewidths=1.3)
    ax.set_xlim(*xl)
    ax.set_ylim(-0.85, 15)
    ax.set_xticks(xt)
    ax.set_xticklabels(xtl)
    ax.set_yticks([0, 5, 10, 15])
    ax.set_yticklabels(['0', '5', '10', '15'])
    ax.tick_params(direction='in', top=True, right=True, length=5, width=0.8,
                   colors=axcol, labelsize=28)
    ax.tick_params(axis='x', pad=17)
    ax.tick_params(axis='y', pad=8)
    for sp in ax.spines.values():
        sp.set_color(axcol)
        sp.set_linewidth(0.8)
    ax.text(lx, ly, xlab, transform=ax.transAxes, ha='center', va='baseline',
            fontsize=30, color=axcol)
    fig.text(fx(93), fy((y0 + y1) / 2), 'NTP (\u03bcM)', rotation=90, ha='center',
             va='center', fontsize=33, color=axcol)

# ---------- right panel ----------
bx0, by0, bx1, by1 = 1076.3, 186.4, 2498.6, 1147
axb = fig.add_axes([fx(bx0), fy(by1), fx(bx1 - bx0), (by1 - by0) / H])
axb.set_yscale('log')
lw = 3.5
h1, = axb.plot(rdv_t, rdv_c, color=blue, lw=lw, zorder=2)
h2, = axb.plot(inter_t, inter_c, color=orange, lw=lw, zorder=2)
h3, = axb.plot(nuc_t, nuc_c, color=purple, lw=lw, zorder=2)
h4, = axb.plot(ntp_t, ntp_c, color=green, lw=lw, zorder=2)
ms = 11
h5, = axb.plot(obs_rdv_t, obs_rdv_c, 'o', color=blue, ms=ms, clip_on=False, zorder=3)
h6, = axb.plot(obs_inter_t, obs_inter_c, 'o', color=orange, ms=ms, clip_on=False, zorder=3)
h7, = axb.plot(obs_nuc_t, obs_nuc_c, 'o', color=purple, ms=ms, clip_on=False, zorder=3)
h8, = axb.plot(obs_ntp_t, obs_ntp_c, 'o', color=green, ms=ms, clip_on=False, zorder=3)

axb.set_xlim(0, 26)
axb.set_ylim(1, 1e4)
axb.set_xticks([0, 5, 10, 15, 20, 25])
axb.set_xticklabels(['0', '5', '10', '15', '20', '25'])
axb.set_yticks([1, 10, 100, 1000, 10000])
axb.set_yticklabels([r'$10^{0}$', r'$10^{1}$', r'$10^{2}$', r'$10^{3}$', r'$10^{4}$'])
axb.yaxis.set_minor_locator(LogLocator(base=10, subs=np.arange(2, 10)))
axb.yaxis.set_minor_formatter(NullFormatter())
axb.spines['top'].set_visible(False)
axb.spines['right'].set_visible(False)
for sp in ('left', 'bottom'):
    axb.spines[sp].set_color(axcol)
    axb.spines[sp].set_linewidth(1.0)
axb.tick_params(which='major', direction='in', length=9, width=1.0, colors=axcol, labelsize=27)
axb.tick_params(which='minor', direction='in', length=5, width=0.8, colors=axcol)
axb.tick_params(axis='x', pad=13)
axb.tick_params(axis='y', pad=7)

fig.text(fx(978.6), fy(666.7), 'Concentration (ng/mL)', rotation=90, ha='center',
         va='center', fontsize=29, color=axcol)
fig.text(fx(1787), fy(1238), 'Time (hour)', ha='center', va='center', fontsize=29,
         color=axcol)

# legend box
lx0, ly0, lx1, ly1 = 1486, 721, 2503.5, 1125
frame = Rectangle((fx(lx0), fy(ly1)), fx(lx1 - lx0), (ly1 - ly0) / H,
                  transform=fig.transFigure, facecolor='white', edgecolor=axcol,
                  linewidth=1.0, zorder=4, clip_on=False)
axb.add_patch(frame)
leg = axb.legend([h1, h2, h3, h4, h5, h6, h7, h8], labels, loc='upper left',
                 bbox_to_anchor=(fx(1628.8), fy(735)), bbox_transform=fig.transFigure,
                 frameon=False, borderpad=0, borderaxespad=0, handlelength=1.2,
                 handletextpad=0.1, labelspacing=0.37, fontsize=27)
leg.set_zorder(5)

# panel titles
fig.text(fx(77), fy(65), '(A)', ha='center', va='baseline', fontsize=33,
         family='DejaVu Sans', fontweight='bold')
fig.text(fx(1222), fy(63), '(B)', ha='center', va='baseline', fontsize=33,
         family='DejaVu Sans', fontweight='bold')
fig.text(fx(576), fy(77), 'Latin Hypercube Sampling', ha='center', va='baseline',
         fontsize=37.5, family='DejaVu Sans', fontweight='bold')
fig.text(fx(613), fy(140), '(monkey)', ha='center', va='baseline',
         fontsize=37.5, family='DejaVu Sans', fontweight='bold')

fig.savefig('out.png', dpi=100, facecolor='white')
